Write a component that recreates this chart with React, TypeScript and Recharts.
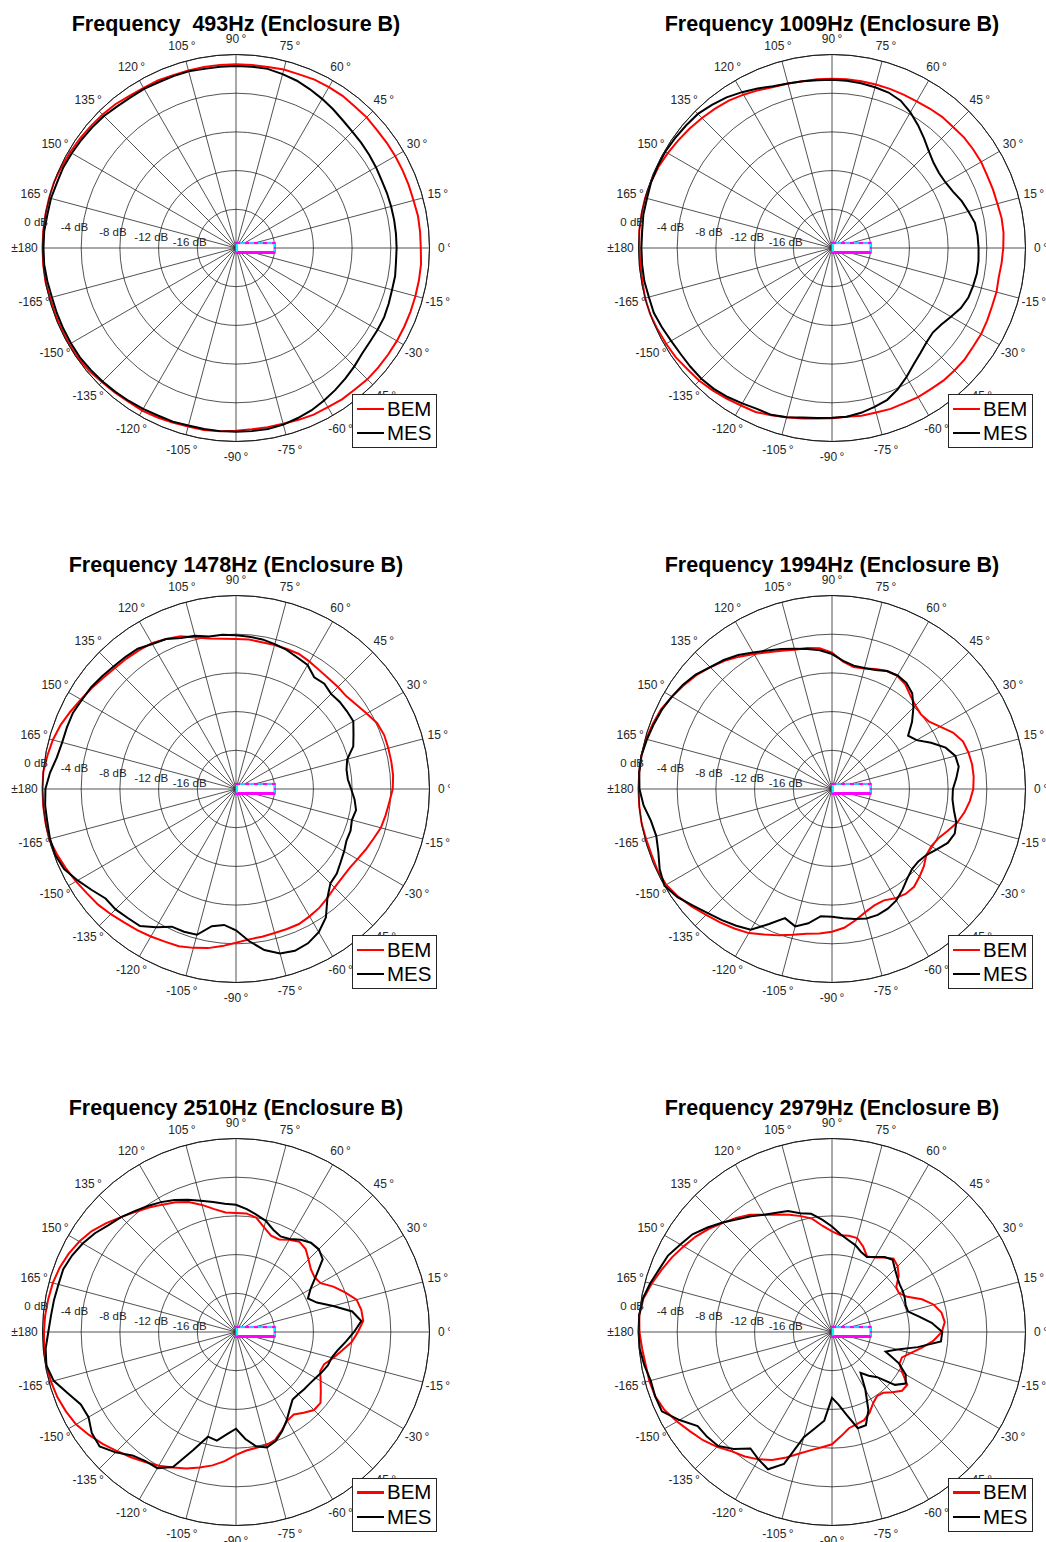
import React from "react";
import { RadarChart, Radar, PolarGrid, PolarAngleAxis, PolarRadiusAxis } from "recharts";

// measurement angles (deg), 0 = front of the enclosure, counter-clockwise
const angles = [
  0, 5, 10, 15, 20, 25, 30, 35, 40, 45, 50, 55,
  60, 65, 70, 75, 80, 85, 90, 95, 100, 105, 110, 115,
  120, 125, 130, 135, 140, 145, 150, 155, 160, 165, 170, 175,
  180, 185, 190, 195, 200, 205, 210, 215, 220, 225, 230, 235,
  240, 245, 250, 255, 260, 265, 270, 275, 280, 285, 290, 295,
  300, 305, 310, 315, 320, 325, 330, 335, 340, 345, 350, 355,
];
const gridAngles = [0, 15, 30, 45, 60, 75, 90, 105, 120, 135, 150, 165, 180, 195, 210, 225, 240, 255, 270, 285, 300, 315, 330, 345];
const radiusTicks = [-20, -16, -12, -8, -4, 0];

// normalised SPL in dB, one value per entry of `angles`
const bem493 = [
  -0.9, -0.9, -1.0, -1.0, -1.0, -1.0, -1.0, -1.0, -0.9, -0.9, -0.8, -0.8,
  -0.8, -0.9, -0.9, -1.0, -1.0, -1.0, -1.0, -1.0, -1.0, -1.0, -0.9, -0.9,
  -0.8, -0.6, -0.5, -0.4, -0.3, -0.2, -0.1, 0, 0, 0, 0, 0,
  0, 0, -0.1, -0.1, -0.1, -0.1, -0.1, -0.2, -0.4, -0.5, -0.6, -0.6,
  -0.7, -0.8, -0.9, -0.9, -1.0, -1.1, -1.2, -1.2, -1.2, -1.1, -1.0, -1.0,
  -0.9, -0.9, -0.8, -0.8, -0.8, -0.8, -0.8, -0.8, -0.8, -0.8, -0.8, -0.9,
];
const mes493 = [
  -3.4, -3.4, -3.4, -3.4, -3.4, -3.3, -3.2, -3.1, -3.0, -2.8, -2.5, -2.2,
  -1.9, -1.6, -1.4, -1.2, -1.2, -1.2, -1.2, -1.2, -1.1, -1.1, -1.1, -1.0,
  -1.0, -0.9, -0.7, -0.6, -0.5, -0.4, -0.3, -0.3, -0.2, -0.2, -0.1, -0.1,
  -0.1, -0.2, -0.3, -0.3, -0.3, -0.3, -0.3, -0.4, -0.5, -0.6, -0.7, -0.8,
  -0.9, -0.9, -1.0, -1.0, -1.0, -1.0, -1.0, -1.0, -1.1, -1.3, -1.5, -1.8,
  -2.1, -2.4, -2.7, -3.0, -3.1, -3.1, -3.1, -3.2, -3.3, -3.3, -3.4, -3.4,
];
const bem1009 = [
  -2.2, -2.2, -2.3, -2.3, -2.3, -2.2, -2.2, -2.2, -2.3, -2.3, -2.4, -2.5,
  -2.5, -2.5, -2.5, -2.5, -2.5, -2.5, -2.5, -2.5, -2.4, -2.3, -2.0, -1.7,
  -1.4, -1.2, -1.0, -0.8, -0.6, -0.4, -0.2, -0.1, 0, 0, 0, -0.1,
  -0.1, -0.1, 0, 0, -0.1, -0.2, -0.3, -0.5, -0.6, -0.8, -1.0, -1.2,
  -1.3, -1.6, -1.9, -2.1, -2.3, -2.4, -2.5, -2.4, -2.4, -2.3, -2.3, -2.2,
  -2.2, -2.1, -2.1, -2.1, -2.2, -2.2, -2.3, -2.4, -2.4, -2.5, -2.4, -2.3,
];
const mes1009 = [
  -4.9, -5.0, -5.4, -5.75, -6.2, -6.45, -6.5, -6.3, -5.85, -5.2, -4.5, -3.8,
  -3.2, -2.9, -2.8, -2.7, -2.65, -2.6, -2.6, -2.5, -2.4, -2.2, -1.8, -1.4,
  -1.0, -0.7, -0.4, -0.3, -0.2, -0.1, -0.1, -0.1, -0.2, -0.2, -0.3, -0.3,
  -0.3, -0.3, -0.4, -0.4, -0.6, -0.8, -0.9, -0.9, -0.9, -1.0, -1.2, -1.45,
  -1.65, -1.65, -1.9, -2.2, -2.35, -2.45, -2.5, -2.7, -3.0, -3.3, -3.9, -4.6,
  -5.3, -5.8, -6.2, -6.4, -6.2, -5.8, -5.3, -5.0, -4.9, -4.8, -4.8, -4.85,
];
const bem1478 = [
  -3.7, -3.7, -3.7, -3.7, -3.9, -4.4, -4.8, -5.1, -5.1, -5.1, -5.0, -4.8,
  -4.6, -4.6, -4.6, -4.6, -4.5, -4.5, -4.4, -4.2, -3.8, -3.2, -2.9, -2.6,
  -2.5, -2.4, -2.3, -2.1, -1.8, -1.5, -1.1, -0.7, -0.4, -0.2, 0, 0,
  0, 0, 0, -0.3, -0.6, -0.9, -1.2, -1.4, -1.7, -2.0, -2.2, -2.4,
  -2.6, -2.7, -3.0, -3.3, -3.7, -4.1, -4.4, -4.5, -4.6, -4.6, -4.6, -4.8,
  -5.0, -5.3, -5.6, -5.7, -5.7, -5.5, -5.2, -4.9, -4.5, -4.3, -4.1, -3.8,
];
const mes1478 = [
  -8.4, -8.4, -8.1, -7.1, -6.6, -6.0, -6.0, -6.0, -6.1, -5.8, -5.9, -5.2,
  -5.0, -4.7, -4.5, -4.3, -4.2, -4.1, -4.0, -4.0, -3.6, -3.4, -2.9, -2.7,
  -2.3, -2.2, -2.1, -1.9, -1.7, -1.6, -1.4, -1.4, -1.4, -1.2, -0.7, -0.3,
  -0.2, -0.2, -0.1, -0.1, -0.4, -1.1, -1.8, -2.4, -2.4, -2.6, -2.7, -3.5,
  -4.3, -4.3, -4.4, -5.6, -5.9, -5.4, -4.2, -3.1, -2.4, -2.2, -2.4, -2.9,
  -3.8, -5.3, -6.2, -6.4, -6.8, -7.1, -7.4, -7.4, -7.6, -7.4, -7.7, -8.1,
];
const bem1994 = [
  -5.3, -5.3, -5.4, -5.6, -6.2, -7.1, -7.8, -8.0, -7.8, -7.4, -6.8, -6.5,
  -6.55, -6.8, -7.1, -7.2, -6.8, -5.9, -5.4, -5.2, -5.1, -4.8, -4.4, -3.9,
  -3.3, -2.7, -2.2, -1.7, -1.3, -0.9, -0.5, -0.3, -0.1, 0, 0, 0,
  0, 0, -0.1, -0.15, -0.1, -0.2, -0.6, -1.1, -1.6, -2.0, -2.4, -2.8,
  -3.4, -3.9, -4.4, -4.8, -5.0, -5.25, -5.6, -6.2, -6.8, -7.2, -7.3, -6.95,
  -6.75, -6.8, -7.2, -7.6, -8.1, -8.15, -7.9, -7.3, -6.6, -6.1, -5.7, -5.4,
];
const mes1994 = [
  -7.1, -6.7, -6.8, -7.5, -8.7, -9.9, -10.4, -9.2, -8.1, -7.1, -6.6, -6.45,
  -6.55, -6.9, -7.05, -7.05, -6.7, -6.05, -5.6, -5.3, -5.0, -4.6, -4.2, -3.7,
  -3.1, -2.6, -2.2, -1.6, -1.2, -0.9, -0.6, -0.4, -0.2, 0, 0, -0.1,
  -0.45, -1.0, -1.2, -0.9, -0.35, 0, -0.5, -1.25, -1.85, -2.3, -2.75, -3.2,
  -4.6, -5.8, -5.3, -5.9, -6.8, -6.8, -6.6, -6.35, -6.15, -6.15, -6.35, -6.7,
  -7.3, -7.9, -8.3, -8.35, -8.1, -7.5, -6.8, -6.5, -6.7, -7.2, -7.5, -7.5,
];
const bem2510 = [
  -6.8, -6.85, -7.1, -8.0, -8.9, -9.9, -10.1, -9.9, -9.4, -8.8, -8.6, -9.0,
  -9.45, -9.4, -8.8, -8.0, -7.7, -7.7, -7.6, -7.1, -6.4, -5.7, -5.2, -4.8,
  -4.3, -3.8, -3.2, -2.5, -1.8, -1.3, -0.9, -0.6, -0.4, -0.3, -0.2, -0.15,
  -0.1, -0.1, -0.2, -0.35, -0.6, -0.9, -1.45, -2.0, -2.6, -3.1, -3.6, -4.05,
  -4.55, -5.0, -5.5, -6.0, -6.6, -7.3, -7.7, -7.85, -7.9, -8.15, -8.8, -9.4,
  -9.6, -9.1, -8.6, -8.6, -9.3, -9.9, -10.4, -10.3, -9.6, -8.9, -8.0, -7.4,
];
const mes2510 = [
  -7.0, -7.8, -9.6, -11.1, -11.8, -11.1, -9.9, -8.3, -7.9, -7.95, -8.35, -8.9,
  -9.1, -8.75, -8.1, -7.7, -7.25, -6.85, -6.7, -6.35, -5.95, -5.45, -4.95, -4.5,
  -4.1, -3.7, -3.2, -2.8, -2.2, -1.7, -1.3, -1.0, -1.0, -0.9, -0.8, -0.6,
  -0.25, -0.1, -0.5, -1.5, -2.3, -2.4, -1.8, -1.6, -2.4, -3.35, -3.7, -3.75,
  -4.6, -7.0, -8.8, -8.6, -9.4, -10.0, -8.9, -8.0, -7.65, -8.0, -8.7, -9.5,
  -10.3, -10.9, -10.9, -10.8, -10.7, -10.5, -10.2, -9.9, -9.75, -9.3, -8.6, -7.8,
];
const bem2979 = [
  -8.3, -8.5, -9.1, -10.1, -11.4, -12.0, -11.9, -11.0, -10.4, -10.1, -10.6, -11.1,
  -11.4, -10.6, -9.95, -9.9, -9.96, -9.6, -9.0, -8.1, -7.6, -7.1, -6.6, -6.0,
  -5.2, -4.6, -4.05, -3.4, -2.8, -2.3, -1.75, -1.25, -0.7, -0.2, 0, -0.1,
  -0.3, -0.45, -0.45, -0.55, -0.9, -1.5, -2.1, -2.6, -3.2, -3.9, -4.3, -4.8,
  -5.4, -6.2, -7.0, -7.6, -8.05, -8.4, -9.2, -9.9, -10.15, -10.3, -10.8, -11.5,
  -11.9, -11.8, -11.2, -10.55, -10.5, -11.6, -12.3, -12.3, -11.6, -10.6, -9.5, -8.65,
];
const mes2979 = [
  -9.6, -10.85, -11.85, -11.9, -11.7, -11.55, -11.45, -11.2, -10.8, -10.25, -10.55, -11.05,
  -11.45, -11.2, -10.7, -10.35, -9.85, -9.1, -8.35, -7.6, -7.3, -6.7, -6.4, -6.0,
  -5.4, -4.8, -4.0, -3.2, -2.4, -1.9, -1.3, -1.0, -0.55, -0.14, 0, 0,
  -0.05, -0.3, -0.6, -0.55, -0.6, -1.8, -3.05, -3.15, -3.35, -4.2, -5.3, -4.8,
  -4.35, -5.5, -8.75, -9.9, -10.8, -13.2, -12.5, -11.3, -9.7, -9.75, -11.1, -13.1,
  -14.85, -14.1, -13.4, -11.5, -10.7, -11.2, -12.4, -14.1, -13.0, -11.0, -8.7, -8.6,
];

const frequencies = [" 493", "1009", "1478", "1994", "2510", "2979"];
const bemSeries = [bem493, bem1009, bem1478, bem1994, bem2510, bem2979];
const mesSeries = [mes493, mes1009, mes1478, mes1994, mes2510, mes2979];

const FONT = '"Liberation Sans", Arial, Helvetica, sans-serif';
const TEXT = "#262626";
const W = 450;
const H = 542;
const CX = 236;
const CY = 248;
const R = 193.5;
const R_MIN = radiusTicks[0];
const R_MAX = radiusTicks[radiusTicks.length - 1];
const gridRadii = radiusTicks.map((v) => ((v - R_MIN) / (R_MAX - R_MIN)) * R);

function AngleTick(props: any) {
  const v = Number(props.payload?.value);
  if (v % 15 !== 0) return <g />;
  const rad = (v * Math.PI) / 180;
  const off = v === 180 ? 18 : 15.5;
  const x = CX + (R + off) * Math.cos(rad);
  const y = CY - (R + off) * Math.sin(rad);
  const deg = v > 180 ? v - 360 : v;
  return (
    <text x={x} y={y} textAnchor="middle" dominantBaseline="central" fontSize={12} fill={TEXT} fontFamily={FONT}>
      {v === 180 ? "±180" : `${deg}\u2009°`}
    </text>
  );
}

function RadiusTick(props: any) {
  const { x, y, payload } = props;
  if (payload.value === R_MIN) return <g />;
  return (
    <text x={x - 8} y={y - 1} textAnchor="middle" dominantBaseline="central" fontSize={11.5} fill={TEXT} fontFamily={FONT}>
      {`${payload.value} dB`}
    </text>
  );
}

// small sketch of the enclosure at the origin
function Enclosure() {
  const w = gridRadii[1];
  return (
    <g>
      <rect x={CX} y={CY - 5} width={w} height={9.5} fill="#fff" stroke="#ff00ff" strokeWidth={2.2} />
      <line x1={CX} y1={CY + 4.5} x2={CX + w} y2={CY + 4.5} stroke="#ff00ff" strokeWidth={3} />
      <line x1={CX + 4} y1={CY - 5} x2={CX + w} y2={CY - 5} stroke="#00ffff" strokeWidth={1.4} strokeDasharray="5 4" />
      <line x1={CX + 1} y1={CY - 4} x2={CX + 1} y2={CY + 3.5} stroke="#00ffff" strokeWidth={2} />
      <line x1={CX + w} y1={CY - 4} x2={CX + w} y2={CY + 3.5} stroke="#00ffff" strokeWidth={1.4} strokeDasharray="3 2" />
    </g>
  );
}

function Legend() {
  const row = (color: string, label: string) => (
    <div style={{ display: "flex", alignItems: "center", height: 24.4 }}>
      <div style={{ width: 27, height: 2.4, background: color, marginLeft: 4, marginRight: 3 }} />
      <span style={{ fontSize: 20.5, lineHeight: "20px", color: "#000" }}>{label}</span>
    </div>
  );
  return (
    <div
      style={{
        position: "absolute",
        left: CX + 116,
        top: CY + 146,
        width: 85,
        height: 54,
        boxSizing: "border-box",
        border: "1px solid #262626",
        background: "#fff",
        paddingTop: 1.5,
        fontFamily: FONT,
      }}
    >
      {row("#ff0000", "BEM")}
      {row("#000000", "MES")}
    </div>
  );
}

function PolarPanel({ index }: { index: number }) {
  const data = angles.map((a, i) => ({ angle: a, bem: bemSeries[index][i], mes: mesSeries[index][i] }));
  const col = index % 2;
  const rowIdx = Math.floor(index / 2);
  const left = col === 0 ? 0 : 596;
  const top = [0, 541, 1083.7][rowIdx];
  return (
    <div style={{ position: "absolute", left, top, width: W, height: H, overflow: "hidden" }}>
      <div
        style={{
          position: "absolute",
          left: CX - 250,
          width: 500,
          top: 12.4,
          textAlign: "center",
          fontFamily: FONT,
          fontWeight: "bold",
          fontSize: 21.5,
          lineHeight: "24px",
          whiteSpace: "pre",
          color: "#000",
        }}
      >
        {`Frequency ${frequencies[index]}Hz (Enclosure B)`}
      </div>
      <RadarChart
        width={W}
        height={H}
        data={data}
        cx={CX}
        cy={CY}
        outerRadius={R}
        startAngle={0}
        endAngle={360}
        margin={{ top: 0, right: 0, bottom: 0, left: 0 }}
      >
        <PolarGrid
          gridType="circle"
          polarAngles={gridAngles}
          polarRadius={gridRadii}
          stroke="#1a1a1a"
          strokeWidth={0.75}
          strokeOpacity={1}
        />
        <PolarAngleAxis
          dataKey="angle"
          tick={AngleTick}
          tickLine={false}
          axisLineType="circle"
          axisLine={{ stroke: "#1a1a1a", strokeWidth: 1 }}
        />
        <PolarRadiusAxis
          angle={172.5}
          domain={[R_MIN, R_MAX]}
          ticks={radiusTicks as any}
          tickCount={6}
          axisLine={false}
          tick={RadiusTick}
        />
        <Enclosure />
        <Radar dataKey="bem" stroke="#ff0000" strokeWidth={2} fill="none" fillOpacity={0} dot={false} isAnimationActive={false} />
        <Radar dataKey="mes" stroke="#000000" strokeWidth={2} fill="none" fillOpacity={0} dot={false} isAnimationActive={false} />
      </RadarChart>
      <Legend />
    </div>
  );
}

export default function App() {
  return (
    <div style={{ position: "absolute", left: 0, top: 0, width: 1046, height: 1542, overflow: "hidden", background: "#fff" }}>
      {frequencies.map((_, i) => (
        <PolarPanel key={i} index={i} />
      ))}
    </div>
  );
}
